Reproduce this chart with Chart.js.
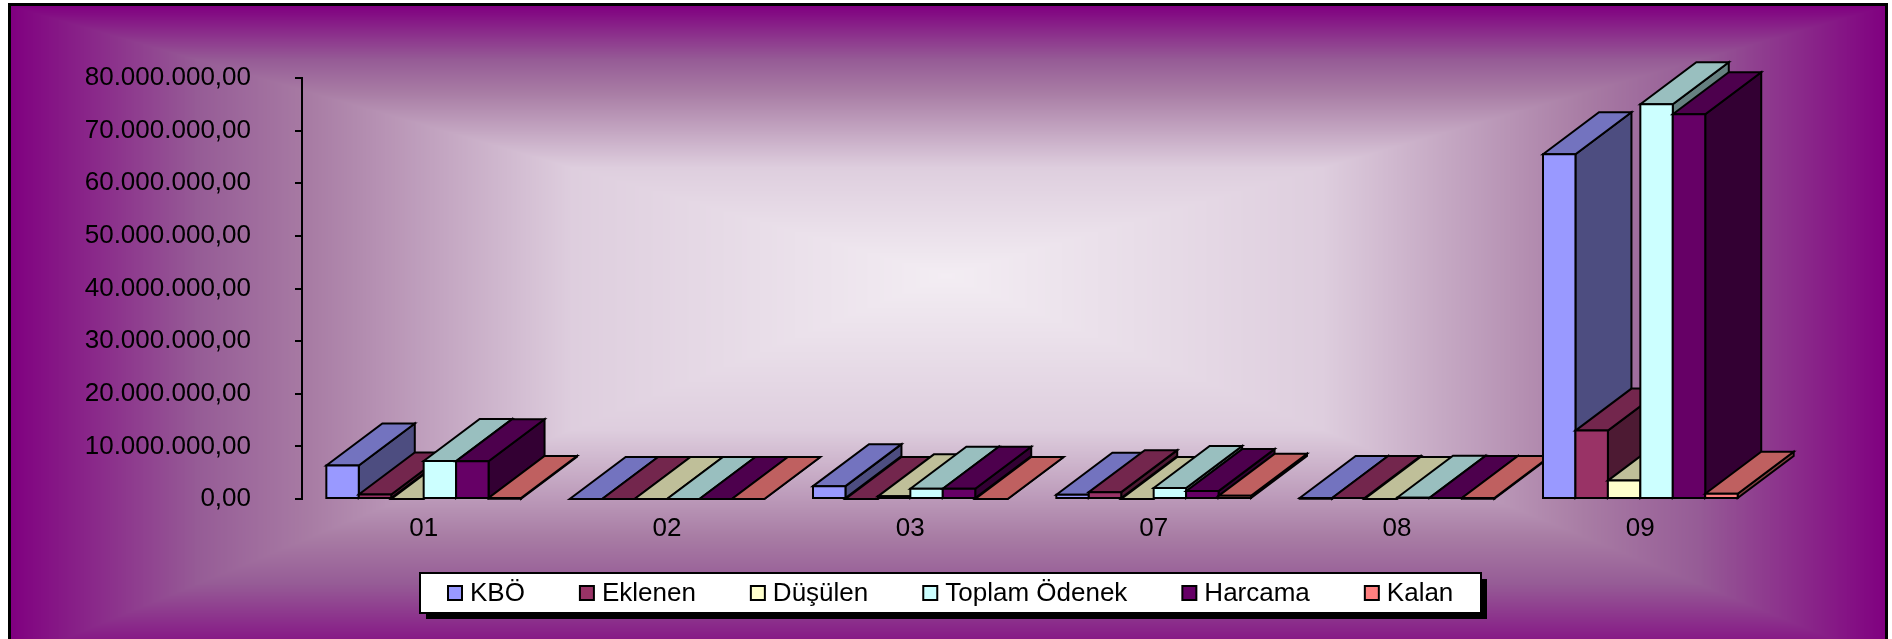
<!DOCTYPE html>
<html>
<head>
<meta charset="utf-8">
<script src="https://cdn.jsdelivr.net/npm/chart.js@4.4.0/dist/chart.umd.min.js"></script>
<style>
  html, body { margin: 0; padding: 0; background: #fff; overflow: hidden; }
</style>
</head>
<body>
<canvas id="odenekChart" width="1892" height="639"></canvas>
<script>
// ===============================
// Data
// ===============================
const CATEGORIES = ["01", "02", "03", "07", "08", "09"];

const SERIES_NAMES = ["KBÖ", "Eklenen", "Düşülen", "Toplam Ödenek", "Harcama", "Kalan"];

const KBO      = [6370000, 0, 2440000,  800000,  50000, 65500000];
const EKLENEN  = [ 860000, 0,       0, 1300000, 200000, 13000000];
const DUSULEN  = [      0, 0,  500000,       0,      0,  3500000];
const TOPLAM   = [7230000, 0, 1940000, 2100000, 250000, 75000000];
const HARCAMA  = [7180000, 0, 1940000, 1500000, 200000, 73100000];
const KALAN    = [  50000, 0,       0,  600000,  50000,  1000000];

const Y_MIN = 0;
const Y_MAX = 80000000;
const Y_STEP = 10000000;

// Excel classic palette
const SERIES_COLORS = ["#9999FF", "#993366", "#FFFFCC", "#CCFFFF", "#660066", "#FF8080"];

const FONT_FAMILY = '"Liberation Sans", Arial, sans-serif';
const AXIS_FONT_SIZE = 26;
const DEPTH_X = 56;
const DEPTH_Y = 42;

/* -----------------------------------------------------
   helpers
----------------------------------------------------- */
function fmtTR(v) {
  const s = Math.round(v).toString().replace(/\B(?=(\d{3})+(?!\d))/g, ".");
  return s + ",00";
}

function shade(hex, f) {
  const n = parseInt(hex.slice(1), 16);
  const r = Math.round(((n >> 16) & 255) * f);
  const g = Math.round(((n >> 8) & 255) * f);
  const b = Math.round((n & 255) * f);
  return `rgb(${r},${g},${b})`;
}

/* -----------------------------------------------------
   background: rectangular "from center" gradient + frame
----------------------------------------------------- */
const BG_STOPS = [
  [0.00, [243, 237, 243]],
  [0.40, [222, 206, 222]],
  [0.68, [168, 124, 164]],
  [0.80, [150,  92, 150]],
  [1.00, [128,   0, 128]]
];

function bgColorAt(t) {
  for (let i = 1; i < BG_STOPS.length; i++) {
    if (t <= BG_STOPS[i][0]) {
      const [t0, c0] = BG_STOPS[i - 1];
      const [t1, c1] = BG_STOPS[i];
      const k = (t - t0) / (t1 - t0);
      return [0, 1, 2].map((j) => c0[j] + (c1[j] - c0[j]) * k);
    }
  }
  return BG_STOPS[BG_STOPS.length - 1][1];
}

let bgCache = null;
const backgroundPlugin = {
  id: "rectGradientBg",
  beforeDraw(chart) {
    const ctx = chart.ctx;
    const W = chart.width, H = chart.height;
    if (!bgCache) {
      const img = ctx.createImageData(W, H);
      const d = img.data;
      const x0 = 11, x1 = 1885, y0 = 6, y1 = 660;
      const cx = 946, cy = 275;
      const lut = [];
      for (let i = 0; i <= 1024; i++) lut.push(bgColorAt(i / 1024));
      for (let y = 0; y < H; y++) {
        const ty = Math.abs(y - cy) / (y < cy ? cy - y0 : y1 - cy);
        for (let x = 0; x < W; x++) {
          const p = (y * W + x) * 4;
          if (x < x0 || x >= x1 || y < y0) {
            d[p] = d[p + 1] = d[p + 2] = 255;
          } else {
            const tx = Math.abs(x - cx) / (x < cx ? cx - x0 : x1 - cx);
            const t = Math.min(1, Math.max(tx, ty));
            const c = lut[Math.round(t * 1024)];
            d[p] = c[0]; d[p + 1] = c[1]; d[p + 2] = c[2];
          }
          d[p + 3] = 255;
        }
      }
      bgCache = img;
    }
    ctx.putImageData(bgCache, 0, 0);
    ctx.save();
    ctx.fillStyle = "#000";
    ctx.fillRect(8, 3, 3, H - 3);
    ctx.fillRect(8, 3, 1880, 3);
    ctx.fillRect(1885, 3, 3, H - 3);
    ctx.restore();
  }
};

/* -----------------------------------------------------
   3D columns, painted left to right
----------------------------------------------------- */
const bar3dPlugin = {
  id: "bar3d",
  beforeDatasetsDraw(chart) {
    const ctx = chart.ctx;
    const bars = [];
    chart.data.datasets.forEach((ds, di) => {
      const meta = chart.getDatasetMeta(di);
      meta.data.forEach((el) => {
        const p = el.getProps(["x", "y", "base", "width"], true);
        bars.push({ p, color: ds.backgroundColor });
      });
    });
    bars.sort((a, b) => a.p.x - b.p.x);

    ctx.save();
    ctx.lineWidth = 2;
    ctx.lineJoin = "miter";
    ctx.strokeStyle = "#000";
    bars.forEach(({ p, color }) => {
      const l = p.x - p.width / 2;
      const r = p.x + p.width / 2;
      const t = Math.min(p.y, p.base);
      const b = Math.max(p.y, p.base);

      // side
      ctx.beginPath();
      ctx.moveTo(r, t);
      ctx.lineTo(r + DEPTH_X, t - DEPTH_Y);
      ctx.lineTo(r + DEPTH_X, b - DEPTH_Y);
      ctx.lineTo(r, b);
      ctx.closePath();
      ctx.fillStyle = shade(color, 0.5);
      ctx.fill();
      ctx.stroke();

      // top
      ctx.beginPath();
      ctx.moveTo(l, t);
      ctx.lineTo(l + DEPTH_X, t - DEPTH_Y);
      ctx.lineTo(r + DEPTH_X, t - DEPTH_Y);
      ctx.lineTo(r, t);
      ctx.closePath();
      ctx.fillStyle = shade(color, 0.75);
      ctx.fill();
      ctx.stroke();

      // front
      ctx.beginPath();
      ctx.rect(l, t, r - l, b - t);
      ctx.fillStyle = color;
      ctx.fill();
      ctx.stroke();
    });
    ctx.restore();
    return false;
  }
};

/* -----------------------------------------------------
   boxed legend with shadow
----------------------------------------------------- */
const boxLegendPlugin = {
  id: "boxLegend",
  afterDraw(chart) {
    const ctx = chart.ctx;
    const fontSize = 26;
    const marker = 14;
    const textGap = 22;
    const itemGap = 55;
    const padX = 28;
    const boxTop = 573, boxBottom = 613, centerX = 951;
    const midY = (boxTop + boxBottom) / 2;

    ctx.save();
    ctx.font = `${fontSize}px ${FONT_FAMILY}`;
    const items = chart.data.datasets.map((ds) => ({
      text: ds.label,
      color: ds.backgroundColor,
      w: ctx.measureText(ds.label).width
    }));
    let total = 0;
    items.forEach((it, i) => {
      total += textGap + it.w + (i < items.length - 1 ? itemGap : 0);
    });
    const boxL = Math.round(centerX - total / 2 - padX);
    const boxW = Math.round(total + 2 * padX);

    ctx.fillStyle = "#000";
    ctx.fillRect(boxL + 6, boxTop + 6, boxW, boxBottom - boxTop);
    ctx.fillStyle = "#fff";
    ctx.fillRect(boxL, boxTop, boxW, boxBottom - boxTop);
    ctx.lineWidth = 2;
    ctx.strokeStyle = "#000";
    ctx.strokeRect(boxL, boxTop, boxW, boxBottom - boxTop);

    let x = boxL + padX;
    ctx.textBaseline = "middle";
    ctx.textAlign = "left";
    items.forEach((it) => {
      ctx.fillStyle = it.color;
      ctx.fillRect(x, midY - marker / 2, marker, marker);
      ctx.strokeRect(x, midY - marker / 2, marker, marker);
      ctx.fillStyle = "#000";
      ctx.fillText(it.text, x + textGap, midY + 1);
      x += textGap + it.w + itemGap;
    });
    ctx.restore();
  }
};

/* -----------------------------------------------------
   chart
----------------------------------------------------- */
const SERIES_DATA = [KBO, EKLENEN, DUSULEN, TOPLAM, HARCAMA, KALAN];

new Chart(document.getElementById("odenekChart"), {
  type: "bar",
  data: {
    labels: CATEGORIES,
    datasets: SERIES_NAMES.map((name, i) => ({
      label: name,
      data: SERIES_DATA[i],
      backgroundColor: SERIES_COLORS[i],
      borderWidth: 0,
      categoryPercentage: 0.8,
      barPercentage: 1
    }))
  },
  options: {
    responsive: false,
    animation: false,
    devicePixelRatio: 1,
    layout: { padding: { top: 78, right: 130, bottom: 0, left: 0 } },
    plugins: {
      legend: { display: false },
      tooltip: { enabled: false }
    },
    scales: {
      x: {
        grid: { display: false, drawTicks: false },
        border: { display: false },
        ticks: {
          color: "#000",
          padding: 14,
          font: { family: FONT_FAMILY, size: AXIS_FONT_SIZE }
        },
        afterFit(scale) { scale.height = 140; }
      },
      y: {
        min: Y_MIN,
        max: Y_MAX,
        grid: {
          display: true,
          drawOnChartArea: false,
          drawTicks: true,
          tickLength: 7,
          color: "#000",
          lineWidth: 2
        },
        border: { display: true, color: "#000", width: 2 },
        ticks: {
          stepSize: Y_STEP,
          color: "#000",
          padding: 44,
          font: { family: FONT_FAMILY, size: AXIS_FONT_SIZE },
          callback: (v) => fmtTR(v)
        },
        afterFit(scale) { scale.width = 302; }
      }
    }
  },
  plugins: [backgroundPlugin, bar3dPlugin, boxLegendPlugin]
});
</script>
</body>
</html>
